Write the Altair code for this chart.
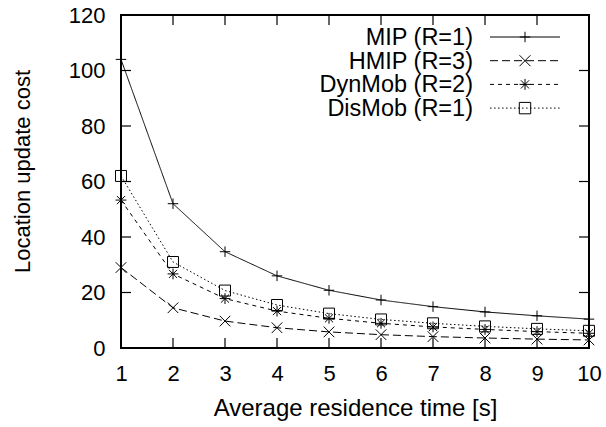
import altair as alt
import pandas as pd

# ---- data ----
x_vals = [1, 2, 3, 4, 5, 6, 7, 8, 9, 10]
series = ["MIP (R=1)", "HMIP (R=3)", "DynMob (R=2)", "DisMob (R=1)"]
mip = [104, 52, 34.7, 26, 20.8, 17.3, 14.9, 13, 11.6, 10.4]
hmip = [29, 14.5, 9.7, 7.3, 5.8, 4.8, 4.1, 3.6, 3.2, 2.9]
dynmob = [53.3, 26.7, 17.8, 13.3, 10.7, 8.9, 7.6, 6.7, 5.9, 5.3]
dismob = [62, 31, 20.7, 15.5, 12.4, 10.3, 8.9, 7.8, 6.9, 6.2]
x_ticks = [1, 2, 3, 4, 5, 6, 7, 8, 9, 10]
y_ticks = [0, 20, 40, 60, 80, 100, 120]

rows = []
for name, vals in zip(series, [mip, hmip, dynmob, dismob]):
    for xv, yv in zip(x_vals, vals):
        rows.append({"t": xv, "cost": yv, "series": name})
df = pd.DataFrame(rows)

W, H = 468, 333
FONT = "Liberation Sans"
XT = "Average residence time [s]"
YT = "Location update cost"

shape_plus = "M-1,0L1,0M0,-1L0,1"
shape_x = "M-1,-1L1,1M-1,1L1,-1"
shape_star = "M-1,0L1,0M0,-1L0,1M-0.75,-0.75L0.75,0.75M-0.75,0.75L0.75,-0.75"
shape_sq = "M-1,-1L1,-1L1,1L-1,1Z"
shapes = [shape_plus, shape_x, shape_star, shape_sq]
dashes = [[1, 0], [8, 4], [4, 4], [1.5, 2.5]]
sizes = [110, 120, 120, 130]

xs = alt.Scale(domain=[1, 10], nice=False)
ys = alt.Scale(domain=[0, 120], nice=False)
xaxis = alt.Axis(values=x_ticks, labelPadding=15, titlePadding=12, labelFlush=False,
                 titleFontSize=24)
yaxis = alt.Axis(values=y_ticks, labelPadding=16, titlePadding=34, titleY=156)

base = alt.Chart(df)
lines = base.mark_line(color="black", strokeWidth=1).encode(
    x=alt.X("t:Q", scale=xs, title=XT, axis=xaxis),
    y=alt.Y("cost:Q", scale=ys, title=YT, axis=yaxis),
    strokeDash=alt.StrokeDash("series:N", scale=alt.Scale(domain=series, range=dashes), legend=None),
)
points = base.mark_point(filled=False, color="black", strokeWidth=1, opacity=1).encode(
    x=alt.X("t:Q", title=XT, axis=xaxis),
    y=alt.Y("cost:Q", title=YT, axis=yaxis),
    shape=alt.Shape("series:N", scale=alt.Scale(domain=series, range=shapes), legend=None),
    size=alt.Size("series:N", scale=alt.Scale(domain=series, range=sizes), legend=None),
)

xt = alt.Chart(pd.DataFrame({"t": x_ticks}))
yt = alt.Chart(pd.DataFrame({"cost": y_ticks}))
tick_len = 10
tb = xt.mark_rule(color="black", strokeWidth=1.2).encode(
    x=alt.X("t:Q", title=XT, axis=xaxis), y=alt.value(H), y2=alt.value(H - tick_len))
tt = xt.mark_rule(color="black", strokeWidth=1.2).encode(
    x=alt.X("t:Q", title=XT, axis=xaxis), y=alt.value(0), y2=alt.value(tick_len))
tl = yt.mark_rule(color="black", strokeWidth=1.2).encode(
    y=alt.Y("cost:Q", title=YT, axis=yaxis), x=alt.value(0), x2=alt.value(tick_len))
tr = yt.mark_rule(color="black", strokeWidth=1.2).encode(
    y=alt.Y("cost:Q", title=YT, axis=yaxis), x=alt.value(W), x2=alt.value(W - tick_len))

layers = [lines, points, tb, tt, tl, tr]

# ---- legend (label left, sample right) ----
leg_rows = [22, 45.7, 69.4, 93.1]
one = alt.Chart(pd.DataFrame({"a": [0]}))
for i, name in enumerate(series):
    yy = leg_rows[i]
    layers.append(one.mark_text(text=name, align="right", baseline="middle", font=FONT,
                                fontSize=23.5, color="black").encode(
        x=alt.value(352), y=alt.value(yy + 1)))
    layers.append(one.mark_rule(color="black", strokeWidth=1, strokeDash=dashes[i]).encode(
        x=alt.value(369), x2=alt.value(439), y=alt.value(yy)))
    layers.append(one.mark_point(shape=shapes[i], size=sizes[i], filled=False, color="black",
                                 strokeWidth=1, opacity=1).encode(
        x=alt.value(404), y=alt.value(yy)))

chart = alt.layer(*layers).properties(
    width=W, height=H,
    padding={"left": 121, "top": 15, "right": 17, "bottom": 79},
    autosize=alt.AutoSizeParams(type="none"),
    background="white",
).configure_view(
    stroke="black", strokeWidth=2
).configure_axis(
    domain=False, grid=False, ticks=False,
    labelFont=FONT, titleFont=FONT, labelFontSize=22, titleFontSize=22,
    titleFontWeight="normal", labelColor="black", titleColor="black",
)

chart.save("out.html", embed_options={"renderer": "svg", "actions": False})
